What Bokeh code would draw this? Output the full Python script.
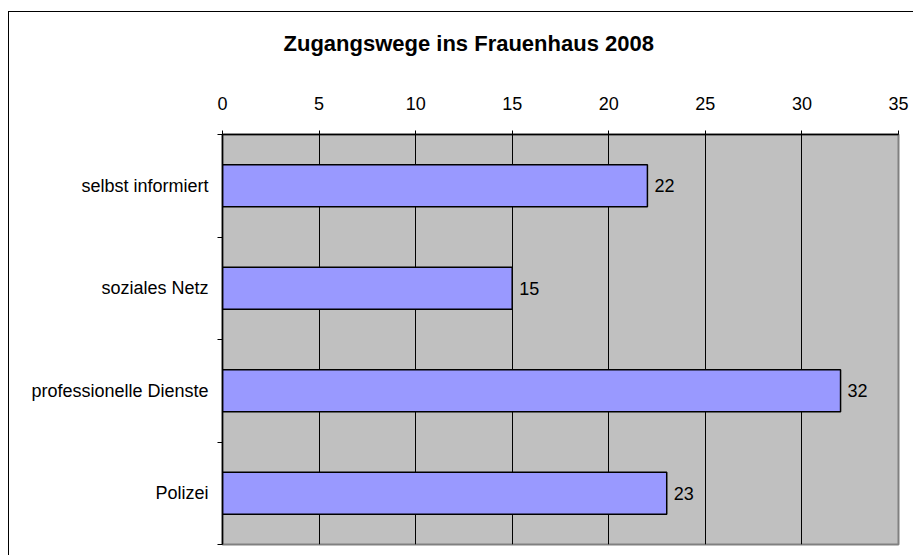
from bokeh.plotting import figure
from bokeh.models import Range1d, FixedTicker, ColumnDataSource
from bokeh.core.properties import value
from bokeh.embed import file_html
from bokeh.resources import INLINE

title_text = "Zugangswege ins Frauenhaus 2008"
categories = ["selbst informiert", "soziales Netz", "professionelle Dienste", "Polizei"]
counts = [22, 15, 32, 23]
x_ticks = [0, 5, 10, 15, 20, 25, 30, 35]

FONT = "Liberation Sans"
pos = [i + 0.5 for i in range(len(categories))]

src = ColumnDataSource(dict(y=pos, v=counts, lbl=[str(c) for c in counts]))

p = figure(width=905, height=544, output_backend="svg", toolbar_location=None,
           x_range=Range1d(0, 35), y_range=Range1d(len(categories), 0),
           x_axis_location="above", min_border_left=213, min_border_right=16,
           min_border_top=122, min_border_bottom=12)
p.styles = {"border-left": "1px solid #000000", "border-top": "1px solid #000000",
            "margin-top": "11px", "margin-left": "8px"}
p.background_fill_color = "#C0C0C0"
p.border_fill_color = "white"
p.outline_line_color = "#808080"
p.outline_line_width = 2

p.title.text = title_text
p.title.align = "left"
p.title.offset = 61
p.title.text_font = FONT
p.title.text_font_size = "22px"
p.title.text_font_style = "bold"
p.title.text_color = "black"
p.title.standoff = 0
p.title.padding = (0, 0, 0, 38)

p.hbar(y="y", right="v", left=0, height=0.41, source=src,
       fill_color="#9999FF", line_color="black", line_width=1.5)
p.text(x="v", y="y", text="lbl", source=src, x_offset=7,
       text_font=value(FONT), text_font_size="18px", text_color="black",
       text_baseline="middle", text_align="left")

xa = p.xaxis[0]
xa.ticker = FixedTicker(ticks=x_ticks, minor_ticks=[])
xa.axis_line_color = "black"
xa.axis_line_width = 1.5
xa.major_tick_out = 4
xa.major_tick_in = 0
xa.major_tick_line_color = "black"
xa.major_label_text_font = FONT
xa.major_label_text_font_size = "18px"
xa.major_label_text_color = "black"
xa.major_label_standoff = 21

ya = p.yaxis[0]
ya.ticker = FixedTicker(ticks=pos, minor_ticks=list(range(len(categories) + 1)))
ya.major_label_overrides = {pv: c for pv, c in zip(pos, categories)}
ya.axis_line_color = "black"
ya.axis_line_width = 1.5
ya.major_tick_out = 0
ya.major_tick_in = 0
ya.minor_tick_out = 5
ya.minor_tick_in = 0
ya.minor_tick_line_color = "black"
ya.major_label_text_font = FONT
ya.major_label_text_font_size = "18px"
ya.major_label_text_color = "black"
ya.major_label_standoff = 9

p.xgrid.grid_line_color = "black"
p.xgrid.grid_line_width = 1
p.xgrid.grid_line_alpha = 1
p.ygrid.grid_line_color = None

open("out.html", "w").write(file_html(p, INLINE))
